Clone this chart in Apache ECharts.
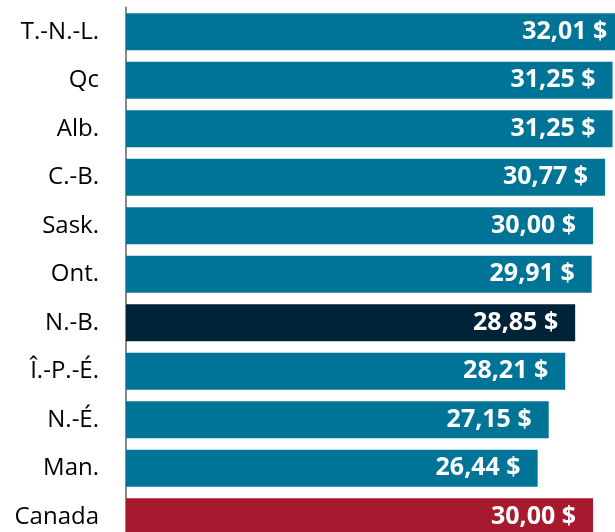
<!DOCTYPE html>
<html>
<head>
<meta charset="utf-8">
<script src="https://cdn.jsdelivr.net/npm/echarts@6/dist/echarts.min.js"></script>
<style>
html,body{margin:0;padding:0;background:#fff;overflow:hidden;width:615px;height:532px;}
#chart{width:632px;height:541px;}
</style>
</head>
<body>
<div id="chart"></div>
<script>
var categories = ['T.-N.-L.', 'Qc', 'Alb.', 'C.-B.', 'Sask.', 'Ont.', 'N.-B.', 'Î.-P.-É.', 'N.-É.', 'Man.', 'Canada'];
var values = [32.01, 31.25, 31.25, 30.77, 30.00, 29.91, 28.85, 28.21, 27.15, 26.44, 30.00];
var barColors = ['#007496', '#007496', '#007496', '#007496', '#007496', '#007496', '#002337', '#007496', '#007496', '#007496', '#A6192E'];

var chart = echarts.init(document.getElementById('chart'), null, {renderer: 'canvas'});
var data = values.map(function (v, i) {
  return {value: v, itemStyle: {color: barColors[i]}};
});
chart.setOption({
  animation: false,
  grid: {left: 126, right: 0, top: 7.5, bottom: 0, containLabel: false},
  xAxis: {
    type: 'value', min: 0, max: 32.5,
    show: false
  },
  yAxis: {
    type: 'category', data: categories, inverse: true,
    axisLine: {show: true, lineStyle: {color: '#888888', width: 2}},
    axisTick: {show: false},
    axisLabel: {
      margin: 27, color: '#000000',
      fontFamily: 'Open Sans', fontSize: 24
    }
  },
  series: [{
    type: 'bar',
    data: data,
    barCategoryGap: '24%',
    clip: false,
    label: {
      show: true, position: 'insideRight', distance: 17,
      color: '#ffffff', fontFamily: 'Open Sans', fontWeight: 'bold', fontSize: 25,
      formatter: function (p) { return p.value.toFixed(2).replace('.', ',') + ' $'; }
    }
  }]
});
</script>
</body>
</html>
